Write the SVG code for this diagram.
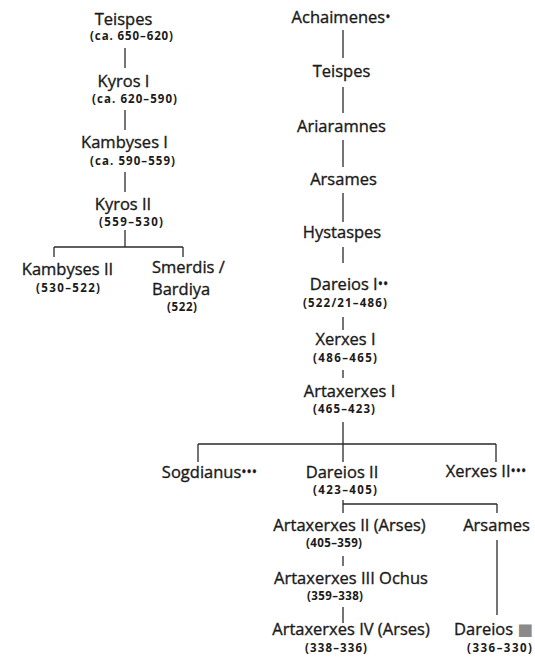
<svg xmlns="http://www.w3.org/2000/svg" width="535" height="670" viewBox="0 0 535 670">
<style>
.n{font-family:"Open Sans","Noto Sans","DejaVu Sans",sans-serif;font-size:16.5px;fill:#1a1a1a;stroke:#1a1a1a;stroke-width:0.35;text-anchor:middle}
.s{text-anchor:start}
.d{font-family:"Open Sans","Noto Sans","DejaVu Sans",sans-serif;font-size:11.5px;font-weight:700;fill:#1a1a1a}
.dot{font-size:14px}
.c line{stroke:#2a2a2a;stroke-width:1.3;fill:none}
</style>
<rect width="535" height="670" fill="#ffffff"/>
<g class="c" id="connectors">
<line x1="125" y1="48" x2="125" y2="68"/>
<line x1="125" y1="110" x2="125" y2="130"/>
<line x1="125" y1="172" x2="125" y2="192"/>
<line x1="125" y1="230" x2="125" y2="247"/>
<line x1="54" y1="247" x2="183" y2="247"/>
<line x1="54" y1="247" x2="54" y2="257"/>
<line x1="183" y1="247" x2="183" y2="257"/>
<line x1="343" y1="30" x2="343" y2="58"/>
<line x1="343" y1="87" x2="343" y2="113"/>
<line x1="343" y1="140" x2="343" y2="167"/>
<line x1="343" y1="193" x2="343" y2="222"/>
<line x1="343" y1="247" x2="343" y2="263"/>
<line x1="343" y1="317" x2="343" y2="330"/>
<line x1="343" y1="370" x2="343" y2="378"/>
<line x1="343" y1="422" x2="343" y2="462"/>
<line x1="198" y1="444" x2="496" y2="444"/>
<line x1="198" y1="444" x2="198" y2="462"/>
<line x1="496" y1="444" x2="496" y2="462"/>
<line x1="343" y1="500" x2="343" y2="513"/>
<line x1="343" y1="504" x2="497" y2="504"/>
<line x1="497" y1="504" x2="497" y2="513"/>
<line x1="343" y1="556" x2="343" y2="566"/>
<line x1="343" y1="607" x2="343" y2="623"/>
<line x1="497" y1="540" x2="497" y2="615"/>
</g>
<g id="teispes-l"><text class="n" x="123.5" y="25">Teispes</text><text class="d" x="90" y="40" textLength="83" lengthAdjust="spacing">(ca. 650–620)</text></g>
<g id="kyros1"><text class="n" x="123.5" y="87">Kyros I</text><text class="d" x="92" y="103" textLength="85" lengthAdjust="spacing">(ca. 620–590)</text></g>
<g id="kambyses1"><text class="n" x="124.5" y="148">Kambyses I</text><text class="d" x="90" y="165" textLength="85" lengthAdjust="spacing">(ca. 590–559)</text></g>
<g id="kyros2"><text class="n" x="123" y="210">Kyros II</text><text class="d" x="99" y="226" textLength="64" lengthAdjust="spacing">(559–530)</text></g>
<g id="kambyses2"><text class="n" x="67.5" y="275">Kambyses II</text><text class="d" x="36" y="292" textLength="64" lengthAdjust="spacing">(530–522)</text></g>
<g id="smerdis"><text class="n s" x="152" y="273">Smerdis /</text><text class="n s" x="152" y="295">Bardiya</text><text class="d" x="167" y="311" textLength="30" lengthAdjust="spacing">(522)</text></g>
<g id="achaimenes"><text class="n" x="341" y="23">Achaimenes<tspan class="dot" dy="-1">•</tspan></text></g>
<g id="teispes-r"><text class="n" x="341.5" y="77">Teispes</text></g>
<g id="ariaramnes"><text class="n" x="341.5" y="132">Ariaramnes</text></g>
<g id="arsames1"><text class="n" x="343.5" y="185">Arsames</text></g>
<g id="hystaspes"><text class="n" x="342" y="238">Hystaspes</text></g>
<g id="dareios1"><text class="n" x="349" y="290">Dareios I<tspan class="dot" dy="-1">••</tspan></text><text class="d" x="303" y="307" textLength="84" lengthAdjust="spacing">(522/21–486)</text></g>
<g id="xerxes1"><text class="n" x="345.5" y="345">Xerxes I</text><text class="d" x="313" y="362" textLength="64" lengthAdjust="spacing">(486–465)</text></g>
<g id="artaxerxes1"><text class="n" x="349.5" y="397">Artaxerxes I</text><text class="d" x="313" y="413" textLength="62" lengthAdjust="spacing">(465–423)</text></g>
<g id="sogdianus"><text class="n" x="209.5" y="478">Sogdianus<tspan class="dot" dy="-1">•••</tspan></text></g>
<g id="dareios2"><text class="n" x="342" y="478">Dareios II</text><text class="d" x="313" y="494" textLength="64" lengthAdjust="spacing">(423–405)</text></g>
<g id="xerxes2"><text class="n" x="486" y="477">Xerxes II<tspan class="dot" dy="-1">•••</tspan></text></g>
<g id="artaxerxes2"><text class="n" x="349.5" y="531">Artaxerxes II (Arses)</text><text class="d" x="306" y="547" textLength="56" lengthAdjust="spacing">(405–359)</text></g>
<g id="arsames2"><text class="n" x="496.5" y="531">Arsames</text></g>
<g id="artaxerxes3"><text class="n" x="351" y="584">Artaxerxes III Ochus</text><text class="d" x="307" y="600" textLength="56" lengthAdjust="spacing">(359–338)</text></g>
<g id="artaxerxes4"><text class="n" x="351" y="635">Artaxerxes IV (Arses)</text><text class="d" x="305" y="652" textLength="62" lengthAdjust="spacing">(338–336)</text></g>
<g id="dareios3"><text class="n" x="493.5" y="635">Dareios <tspan fill="#8a8a8a" stroke="none">■</tspan></text><text class="d" x="467" y="652" textLength="65" lengthAdjust="spacing">(336–330)</text></g>
</svg>
